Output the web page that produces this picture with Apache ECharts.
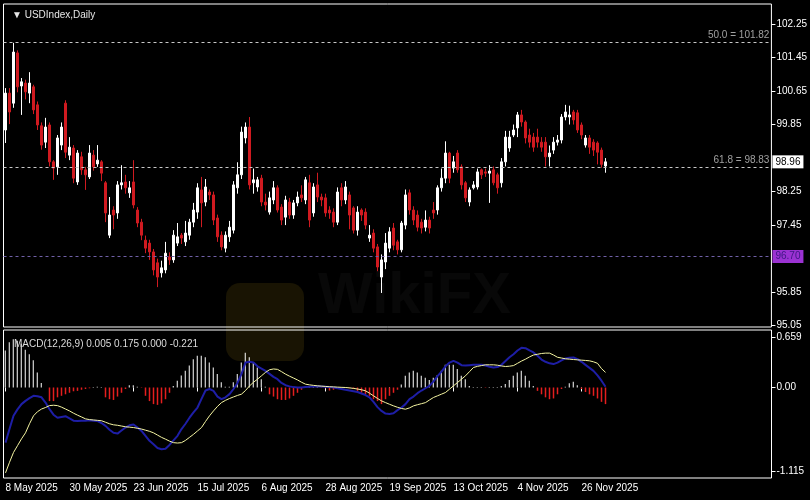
<!DOCTYPE html>
<html><head><meta charset="utf-8">
<script src="https://cdn.jsdelivr.net/npm/echarts@6/dist/echarts.min.js"></script>
<style>html,body{margin:0;padding:0;background:#000}#c{width:810px;height:500px}</style>
</head><body><div id="c"></div>
<script>
// ---- price data (daily OHLC, USDIndex) ----
const opens=[99.72,100.60,100.36,101.56,100.77,100.84,100.60,100.75,100.32,99.82,
99.43,99.84,98.96,98.84,99.36,100.36,99.12,99.29,98.48,99.08,
98.77,98.60,99.12,98.91,98.96,98.46,97.21,97.81,97.74,98.41,
98.48,98.22,98.48,97.81,97.52,97.09,97.02,96.81,96.55,96.31,
96.38,96.69,96.62,97.02,97.21,97.05,97.21,97.52,97.76,98.29,
98.00,98.24,98.17,97.62,97.21,96.90,97.17,97.33,98.34,98.65,
99.53,99.79,98.46,98.36,98.57,98.00,97.76,98.05,98.34,97.88,
97.64,98.00,97.69,97.98,98.17,98.05,98.46,97.74,98.41,98.12,
98.10,97.81,97.76,97.52,98.34,98.05,98.17,97.86,97.33,97.81,
97.76,97.14,97.26,96.93,96.21,96.57,96.90,97.38,97.05,96.86,
97.45,98.22,97.81,97.69,97.52,97.40,97.57,97.81,97.81,98.34,
98.57,99.17,98.81,99.17,98.84,98.46,98.00,98.34,98.36,98.77,
98.72,98.69,98.77,98.65,98.46,98.96,99.29,99.60,99.77,100.08,
99.91,99.60,99.55,99.55,99.43,99.43,99.08,99.24,99.43,99.48,
100.03,100.03,100.15,100.13,99.84,99.36,99.53,99.43,99.41,99.24,
98.86];
const closes=[100.60,100.15,101.58,100.75,100.87,100.63,100.84,100.20,99.84,99.36,
99.79,98.96,98.81,99.53,99.79,99.19,99.31,98.57,99.17,98.77,
98.65,99.17,98.84,99.00,98.69,97.74,97.69,97.69,98.41,98.46,
98.34,98.34,97.93,97.50,97.21,96.90,96.81,96.38,96.21,96.43,
96.78,96.62,97.21,97.17,97.14,97.26,97.52,97.81,98.34,97.98,
98.36,98.17,97.57,97.17,96.93,97.21,97.40,98.41,98.65,99.67,
99.79,98.41,98.53,98.53,98.00,97.93,98.10,98.34,97.81,97.57,
98.05,97.69,97.98,98.12,98.10,98.53,97.57,98.36,98.12,98.05,
97.74,97.74,97.52,98.24,98.05,98.36,97.69,97.33,97.76,97.69,
97.45,97.21,96.90,96.45,96.62,97.02,97.29,96.97,96.86,97.50,
98.17,97.81,97.57,97.40,97.38,97.57,97.38,97.74,98.34,98.57,
99.17,98.57,98.96,98.77,98.41,98.10,98.29,98.41,98.72,98.65,
98.69,98.74,98.46,98.34,98.96,99.55,99.55,99.72,100.08,99.91,
99.53,99.43,99.31,99.43,99.31,99.08,99.17,99.43,99.48,100.03,
100.15,100.08,99.96,99.72,99.60,99.53,99.31,99.24,99.19,98.90,
98.96];
const lows=[99.41,99.86,100.25,100.62,100.08,100.45,100.36,100.10,99.72,99.25,
99.29,98.85,98.53,98.65,99.24,99.05,99.00,98.45,98.41,98.65,
98.29,98.55,98.75,98.84,98.50,97.52,97.14,97.35,97.60,98.30,
98.20,98.10,97.85,97.40,97.09,96.78,96.62,96.25,95.97,96.20,
96.30,96.50,96.55,96.95,97.00,96.95,97.10,97.40,97.60,97.40,
97.90,98.05,97.45,97.05,96.85,96.80,97.05,97.25,98.20,98.55,
99.40,98.30,98.20,98.25,97.90,97.80,97.70,97.95,97.75,97.45,
97.45,97.60,97.60,97.90,98.00,97.95,97.40,97.65,98.00,97.90,
97.65,97.60,97.40,97.45,97.90,97.95,97.35,97.25,97.20,97.55,
97.35,97.05,96.80,96.35,95.83,96.40,96.80,96.85,96.75,96.80,
97.35,97.70,97.45,97.30,97.25,97.30,97.25,97.60,97.70,98.25,
98.45,98.45,98.70,98.70,98.30,98.00,97.90,98.30,98.30,98.55,
98.60,97.98,98.40,98.20,98.35,98.85,99.20,99.55,99.55,99.80,
99.40,99.30,99.20,99.30,99.20,98.85,98.85,99.15,99.35,99.40,
99.95,99.85,99.85,99.65,99.50,99.30,99.15,99.10,98.90,98.82,
98.70];
const highs=[100.72,100.72,101.80,101.62,100.96,100.92,101.10,100.80,100.40,99.90,
100.01,99.90,99.00,99.60,99.90,100.43,99.55,99.36,99.24,99.20,
98.84,99.36,99.24,99.36,99.00,98.50,98.12,97.90,98.50,98.88,
98.65,98.50,99.00,97.88,97.60,97.20,97.10,96.88,96.65,96.60,
97.05,96.80,97.33,97.50,97.26,97.55,97.60,97.98,98.45,98.60,
98.55,98.30,98.25,97.70,97.30,97.30,97.55,98.50,98.95,99.80,
99.90,100.03,98.80,98.60,98.65,98.20,98.25,98.50,98.40,97.95,
98.15,98.10,98.05,98.25,98.40,98.60,98.65,98.45,98.70,98.20,
98.20,97.90,97.85,98.35,98.45,98.50,98.25,97.90,97.90,97.85,
97.85,97.45,97.35,97.00,96.75,97.26,97.40,97.50,97.10,97.55,
98.30,98.30,97.90,97.80,97.60,97.80,97.65,98.00,98.40,98.80,
99.45,99.20,99.10,99.24,98.90,98.50,98.35,98.50,98.80,98.80,
98.80,98.88,98.85,98.70,99.05,99.70,99.70,99.85,100.15,100.20,
99.95,99.75,99.65,99.75,99.55,99.55,99.35,99.55,99.60,100.10,
100.32,100.30,100.20,100.20,99.90,99.60,99.60,99.50,99.45,99.30,
99.05];

// ---- MACD(12,26,9) panel ----
const macdHist=[0.49,0.60,0.64,0.62,0.58,0.50,0.44,0.36,0.20,0.06,
0,-0.18,-0.18,-0.13,-0.11,-0.09,-0.07,-0.05,-0.045,-0.03,
-0.02,-0.01,0.005,0.01,0.005,-0.13,-0.155,-0.165,-0.12,-0.07,
-0.02,0.03,0.03,0.01,-0.005,-0.11,-0.18,-0.22,-0.23,-0.21,
-0.155,-0.07,0.02,0.09,0.16,0.22,0.29,0.375,0.42,0.42,
0.40,0.33,0.265,0.18,0.07,0.01,0.01,0.07,0.18,0.33,
0.46,0.40,0.33,0.265,0.11,0.01,-0.09,-0.12,-0.155,-0.165,
-0.165,-0.145,-0.11,-0.07,-0.03,0.01,0.01,0.005,0.005,-0.005,
-0.01,-0.04,-0.03,-0.01,0.005,0.005,-0.01,-0.02,-0.045,-0.07,
-0.09,-0.11,-0.155,-0.18,-0.22,-0.155,-0.11,-0.07,-0.03,0.04,
0.155,0.20,0.22,0.20,0.155,0.13,0.10,0.13,0.165,0.22,
0.30,0.30,0.30,0.245,0.155,0.11,0.02,0.005,0.005,0.005,
-0.005,0.005,0.005,0.005,0.02,0.045,0.10,0.155,0.20,0.22,
0.155,0.09,0.02,-0.045,-0.09,-0.13,-0.155,-0.145,-0.09,-0.02,
0.01,0.055,0.075,0.03,-0.02,-0.06,-0.09,-0.11,-0.145,-0.19,
-0.22];
const macdLine=[-0.73,-0.55,-0.375,-0.29,-0.22,-0.177,-0.14,-0.11,-0.115,-0.13,
-0.20,-0.287,-0.36,-0.40,-0.39,-0.38,-0.41,-0.44,-0.445,-0.44,
-0.44,-0.435,-0.44,-0.445,-0.47,-0.508,-0.56,-0.60,-0.61,-0.57,
-0.53,-0.50,-0.49,-0.53,-0.574,-0.64,-0.706,-0.75,-0.80,-0.817,
-0.81,-0.76,-0.70,-0.64,-0.55,-0.48,-0.40,-0.33,-0.265,-0.15,
-0.04,-0.02,-0.044,-0.12,-0.155,-0.13,-0.088,-0.02,0.06,0.18,
0.33,0.34,0.33,0.28,0.25,0.22,0.18,0.14,0.11,0.06,
0.03,0.015,0.005,0,0,0.005,0.01,0.012,0.015,0.013,
0.01,0.005,0,-0.01,-0.02,-0.03,-0.04,-0.05,-0.06,-0.08,
-0.10,-0.13,-0.19,-0.26,-0.31,-0.345,-0.35,-0.34,-0.30,-0.265,
-0.22,-0.155,-0.12,-0.075,-0.04,-0.01,0.022,0.08,0.15,0.21,
0.28,0.33,0.353,0.33,0.295,0.29,0.295,0.30,0.30,0.30,
0.29,0.275,0.265,0.27,0.30,0.35,0.40,0.44,0.49,0.525,
0.52,0.49,0.464,0.42,0.37,0.34,0.32,0.31,0.33,0.36,
0.385,0.395,0.397,0.375,0.34,0.30,0.26,0.22,0.16,0.09,
0.01];
const signalLine=[-1.13,-0.99,-0.86,-0.77,-0.68,-0.60,-0.48,-0.375,-0.32,-0.285,
-0.265,-0.24,-0.235,-0.24,-0.26,-0.285,-0.31,-0.34,-0.366,-0.39,
-0.415,-0.425,-0.43,-0.435,-0.44,-0.46,-0.48,-0.494,-0.50,-0.51,
-0.52,-0.525,-0.53,-0.54,-0.55,-0.565,-0.58,-0.60,-0.63,-0.66,
-0.684,-0.71,-0.73,-0.735,-0.73,-0.70,-0.66,-0.62,-0.575,-0.53,
-0.45,-0.375,-0.31,-0.25,-0.20,-0.17,-0.146,-0.125,-0.105,-0.088,
-0.04,0.02,0.07,0.11,0.155,0.20,0.235,0.245,0.24,0.21,
0.177,0.15,0.125,0.10,0.07,0.044,0.035,0.028,0.022,0.018,
0.014,0.01,0.008,0.005,0.002,0,-0.005,-0.012,-0.02,-0.03,
-0.044,-0.075,-0.11,-0.145,-0.177,-0.20,-0.222,-0.243,-0.262,-0.278,
-0.287,-0.27,-0.243,-0.228,-0.214,-0.20,-0.165,-0.132,-0.11,-0.088,
-0.066,-0.022,0.022,0.066,0.11,0.155,0.21,0.265,0.28,0.29,
0.30,0.30,0.30,0.295,0.285,0.278,0.282,0.29,0.32,0.35,
0.375,0.405,0.43,0.44,0.45,0.455,0.455,0.43,0.40,0.39,
0.38,0.375,0.37,0.366,0.362,0.358,0.353,0.34,0.32,0.25,
0.20];

// ---- ticks / labels / levels ----
const xTickLabels=['8 May 2025','30 May 2025','23 Jun 2025','15 Jul 2025','6 Aug 2025','28 Aug 2025','19 Sep 2025','13 Oct 2025','4 Nov 2025','26 Nov 2025'];
const priceTicks=[95.05,95.85,97.45,98.25,99.85,100.65,101.45,102.25];
const macdTicks=[-1.115,0,0.659];
const fibLevels=[{name:'50.0',value:101.82},{name:'61.8',value:98.83}];
const supportLevel=96.70;
const lastPrice=98.96;
const macdHeader='MACD(12,26,9) 0.005 0.175 0.000 -0.221';
const chartTitle='▼ USDIndex,Daily';

// trading-day categories
const MON=['Jan','Feb','Mar','Apr','May','Jun','Jul','Aug','Sep','Oct','Nov','Dec'];
const dates=[];
{let d=new Date(Date.UTC(2025,4,8));
 while(dates.length<closes.length){const w=d.getUTCDay();
  if(w!==0&&w!==6)dates.push(d.getUTCDate()+' '+MON[d.getUTCMonth()]+' '+d.getUTCFullYear());
  d.setUTCDate(d.getUTCDate()+1);}}
const candles=dates.map((_,i)=>[opens[i],closes[i],lows[i],highs[i]]);
const histUp=macdHist.map(v=>v>=0?v:'-');
const histDown=macdHist.map(v=>v<0?v:'-');

const FONT='Liberation Sans, Arial, sans-serif';
const showTick=(idx,val)=>xTickLabels.indexOf(val)>=0;
const chart=echarts.init(document.getElementById('c'),null,{renderer:'canvas'});
chart.setOption({
  animation:false,
  backgroundColor:'#000',
  title:[
    {text:chartTitle,left:7,top:5,textStyle:{color:'#e6e6e6',fontSize:10,fontWeight:'normal',fontFamily:FONT}},
    {text:macdHeader,left:9,top:334,textStyle:{color:'#dcdcdc',fontSize:10,fontWeight:'normal',fontFamily:FONT}}
  ],
  graphic:[
    {type:'rect',z:-10,silent:true,shape:{x:226,y:283,width:78,height:78,r:14},style:{fill:'rgba(190,155,25,0.13)'}},
    {type:'text',z:-10,silent:true,x:318,y:268,style:{text:'WikiFX',fill:'rgba(255,255,255,0.03)',font:'bold 58px '+FONT}}
  ],
  grid:[
    {left:3.5,top:4,width:768,height:323,show:true,borderColor:'#ffffff',borderWidth:1,backgroundColor:'transparent'},
    {left:3.5,top:330,width:768,height:148,show:true,borderColor:'#ffffff',borderWidth:1,backgroundColor:'transparent'}
  ],
  xAxis:[
    {type:'category',gridIndex:0,data:dates,max:191,axisLine:{show:false},axisTick:{show:false},axisLabel:{show:false},splitLine:{show:false}},
    {type:'category',gridIndex:1,data:dates,max:191,axisLine:{show:false},
     axisTick:{show:true,alignWithLabel:true,interval:showTick,length:4,lineStyle:{color:'#ffffff'}},
     axisLabel:{interval:showTick,color:'#ffffff',fontSize:10,fontFamily:FONT,align:'left',margin:5},splitLine:{show:false}}
  ],
  yAxis:[
    {type:'value',gridIndex:0,position:'right',min:95.018,max:102.727,axisLine:{show:false},splitLine:{show:false},
     axisTick:{show:true,length:4,customValues:priceTicks,lineStyle:{color:'#ffffff'}},
     axisLabel:{customValues:priceTicks,color:'#ffffff',fontSize:10,fontFamily:FONT,margin:5,formatter:v=>v.toFixed(2)}},
    {type:'value',gridIndex:1,position:'right',min:-1.198,max:0.761,axisLine:{show:false},splitLine:{show:false},
     axisTick:{show:true,length:4,customValues:macdTicks,lineStyle:{color:'#ffffff'}},
     axisLabel:{customValues:macdTicks,color:'#ffffff',fontSize:10,fontFamily:FONT,margin:5,formatter:v=>v===0?'0.00':String(v)}}
  ],
  series:[
    {type:'candlestick',xAxisIndex:0,yAxisIndex:0,data:candles,barWidth:3,
     itemStyle:{color:'#ffffff',color0:'#d01a20',borderColor:'#ffffff',borderColor0:'#d01a20',borderWidth:1},
     markLine:{silent:true,symbol:['none','none'],animation:false,
      data:[
       ...fibLevels.map(f=>({yAxis:f.value,lineStyle:{color:'#c8c8c8',type:[3,3],width:1},
          label:{show:true,position:'insideEndTop',distance:[2,2],formatter:f.name+' = '+f.value.toFixed(2),color:'#a0a0a0',fontSize:10,fontFamily:FONT}})),
       {yAxis:supportLevel,lineStyle:{color:'#7060a8',type:[3,3],width:1},
          label:{show:true,position:'end',distance:1,formatter:supportLevel.toFixed(2),backgroundColor:'#9b32d2',color:'#3e1784',padding:[2,3,1,3],fontSize:10,fontFamily:FONT}},
       {yAxis:lastPrice,lineStyle:{color:'rgba(0,0,0,0)',width:0},
          label:{show:true,position:'end',distance:1,formatter:lastPrice.toFixed(2),backgroundColor:'#ffffff',color:'#000000',padding:[2,3,1,3],fontSize:10,fontFamily:FONT}}
      ]}},
    {type:'bar',xAxisIndex:1,yAxisIndex:1,data:histUp,barWidth:1,barGap:'-100%',itemStyle:{color:'#ffffff'}},
    {type:'bar',xAxisIndex:1,yAxisIndex:1,data:histDown,barWidth:1.5,barGap:'-100%',itemStyle:{color:'#e41e1e'}},
    {type:'line',xAxisIndex:1,yAxisIndex:1,data:macdLine,showSymbol:false,lineStyle:{color:'#1e1ea6',width:2}},
    {type:'line',xAxisIndex:1,yAxisIndex:1,data:signalLine,showSymbol:false,lineStyle:{color:'#f6f6a2',width:1}}
  ]
});
</script></body></html>
